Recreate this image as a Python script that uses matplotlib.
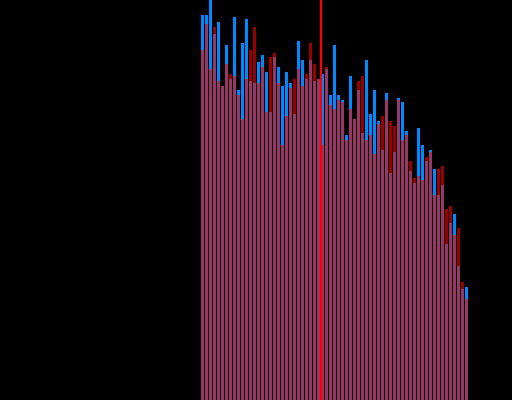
import numpy as np
import matplotlib
matplotlib.use("Agg")
import matplotlib.pyplot as plt

# bar heights (same units as the y axis, 0..400)
blue_vals = [385, 385, 410, 366, 378, 314, 355, 321, 383, 310, 357, 381, 319, 317,
             338, 345, 328, 288, 343, 333, 314, 328, 317, 286, 359, 340, 321, 340,
             319, 321, 326, 331, 305, 355, 305, 300, 265, 324, 281, 310, 267, 340,
             286, 310, 279, 250, 307, 227, 248, 302, 298, 269, 229, 217, 272, 255,
             239, 250, 231, 205, 215, 156, 177, 186, 134, 111, 113]
red_vals = [350, 376, 331, 373, 319, 314, 336, 326, 324, 305, 281, 321, 350, 373,
            317, 333, 288, 343, 347, 317, 255, 284, 312, 321, 331, 314, 326, 357,
            336, 321, 255, 333, 295, 291, 300, 298, 260, 291, 281, 319, 324, 260,
            265, 246, 276, 284, 300, 279, 274, 300, 260, 265, 239, 222, 224, 220,
            243, 248, 205, 231, 234, 191, 194, 165, 172, 118, 101]
marker_x = 29.6

x = np.arange(len(blue_vals))

fig = plt.figure(figsize=(5.12, 4.0), dpi=100, facecolor="black")
ax = fig.add_axes([0, 0, 1, 1])
ax.set_facecolor("black")

ax.bar(x, blue_vals, width=0.75, color="#0088ff", linewidth=0)
ax.bar(x, red_vals, width=0.75, color="red", alpha=0.6, linewidth=0)
ax.axvline(marker_x, color="red", linewidth=1.6)

ax.set_xlim(-50.625, 77.375)
ax.set_ylim(0, 400)
ax.axis("off")

fig.savefig("out.png", dpi=100, facecolor="black")
